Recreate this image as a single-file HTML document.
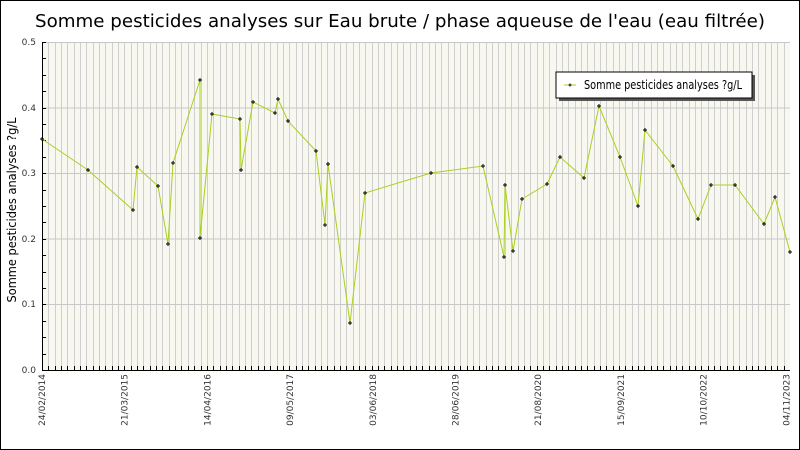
<!DOCTYPE html>
<html><head><meta charset="utf-8"><style>
html,body{margin:0;padding:0;background:#fff}
svg{display:block}
text{font-family:"DejaVu Sans","Liberation Sans",sans-serif}
</style></head><body>
<svg width="800" height="450" xmlns="http://www.w3.org/2000/svg">
<rect x="0.5" y="0.5" width="799" height="449" fill="#fff" stroke="#000"/>
<text x="400" y="27" font-size="18" text-anchor="middle" fill="#000" textLength="730" lengthAdjust="spacingAndGlyphs">Somme pesticides analyses sur Eau brute / phase aqueuse de l'eau (eau filtrée)</text>
<rect x="42" y="42" width="748" height="328" fill="#f8f8f0"/>
<g id="vg" stroke="#cfcfcf" stroke-width="1"></g>
<g stroke="#c8c8c8" stroke-width="1">
<line x1="42" y1="42.5" x2="790" y2="42.5"/><line x1="42" y1="108" x2="790" y2="108"/><line x1="42" y1="173.5" x2="790" y2="173.5"/><line x1="42" y1="239" x2="790" y2="239"/><line x1="42" y1="304.5" x2="790" y2="304.5"/>
</g>
<g id="ticks" stroke="#000" stroke-width="1"></g>
<line x1="42.5" y1="42" x2="42.5" y2="370" stroke="#000"/>
<line x1="42" y1="370.5" x2="790" y2="370.5" stroke="#000"/>
<g font-size="9" fill="#333" text-anchor="end">
<text x="36" y="45">0.5</text><text x="36" y="111">0.4</text><text x="36" y="176">0.3</text><text x="36" y="242">0.2</text><text x="36" y="307">0.1</text><text x="36" y="373">0.0</text>
</g>
<text transform="translate(16,210) rotate(-90)" font-size="12" text-anchor="middle" fill="#000" textLength="185" lengthAdjust="spacingAndGlyphs">Somme pesticides analyses ?g/L</text>
<g font-size="9" fill="#333" id="xl"></g>
<polyline fill="none" stroke="#a8d020" stroke-width="1" points="42,139 88,170 133,210 137,167 158,186 168,244 173,163 200,80 200,238 212,114 240,119 241,170 253,102 275,113 278,99 288,121 316,151 325,225 328,164 350,323 365,193 431,173 483,166 504,257 505,185 513,251 522,199 547,184 560,157 584,178 599,106 620,157 638,206 645,130 673,166 698,219 711,185 735,185 764,224 775,197 790,252"/>
<g id="pts" fill="#000"></g>
<rect x="559" y="75" width="196" height="26" fill="#555"/>
<rect x="556" y="72" width="196" height="26" fill="#fff" stroke="#000"/>
<line x1="564" y1="85" x2="576" y2="85" stroke="#a8d020"/>
<rect x="568.5" y="84.5" width="3" height="1" fill="#000"/><rect x="569.5" y="83.5" width="1" height="3" fill="#000"/>
<text x="584" y="89" font-size="12" fill="#000" textLength="158" lengthAdjust="spacingAndGlyphs">Somme pesticides analyses ?g/L</text>
<script>
var ns="http://www.w3.org/2000/svg";
var vg=document.getElementById("vg"),tk=document.getElementById("ticks");
for(var i=1;i<=118;i++){var x=Math.round(42+i*6.34)+0.5;if(x>790)break;
var l=document.createElementNS(ns,"line");l.setAttribute("x1",x);l.setAttribute("x2",x);l.setAttribute("y1",42);l.setAttribute("y2",370);vg.appendChild(l);
var t=document.createElementNS(ns,"line");t.setAttribute("x1",x);t.setAttribute("x2",x);t.setAttribute("y1",366);t.setAttribute("y2",370);tk.appendChild(t);}
for(var j=0;j<20;j++){var y=Math.round(42+j*16.4)+0.5;var t=document.createElementNS(ns,"line");t.setAttribute("x1",42);t.setAttribute("x2",46);t.setAttribute("y1",y);t.setAttribute("y2",y);tk.appendChild(t);}
var labs=["24/02/2014","21/03/2015","14/04/2016","09/05/2017","03/06/2018","28/06/2019","21/08/2020","15/09/2021","10/10/2022","04/11/2023"];
var xl=document.getElementById("xl");
labs.forEach(function(s,k){var x=42+k*82.7+3;var t=document.createElementNS(ns,"text");t.setAttribute("transform","translate("+x+",374) rotate(-90)");t.setAttribute("text-anchor","end");t.textContent=s;xl.appendChild(t);});
var pts=document.querySelector("polyline").getAttribute("points").trim().split(/\s+/);
var pg=document.getElementById("pts");
pts.forEach(function(p){var a=p.split(",");var x=+a[0],y=+a[1];
var r1=document.createElementNS(ns,"rect");r1.setAttribute("x",x-2);r1.setAttribute("y",y-0.5);r1.setAttribute("width",4);r1.setAttribute("height",1);pg.appendChild(r1);
var r2=document.createElementNS(ns,"rect");r2.setAttribute("x",x-0.5);r2.setAttribute("y",y-2);r2.setAttribute("width",1);r2.setAttribute("height",4);pg.appendChild(r2);});
</script>
</svg>
</body></html>
